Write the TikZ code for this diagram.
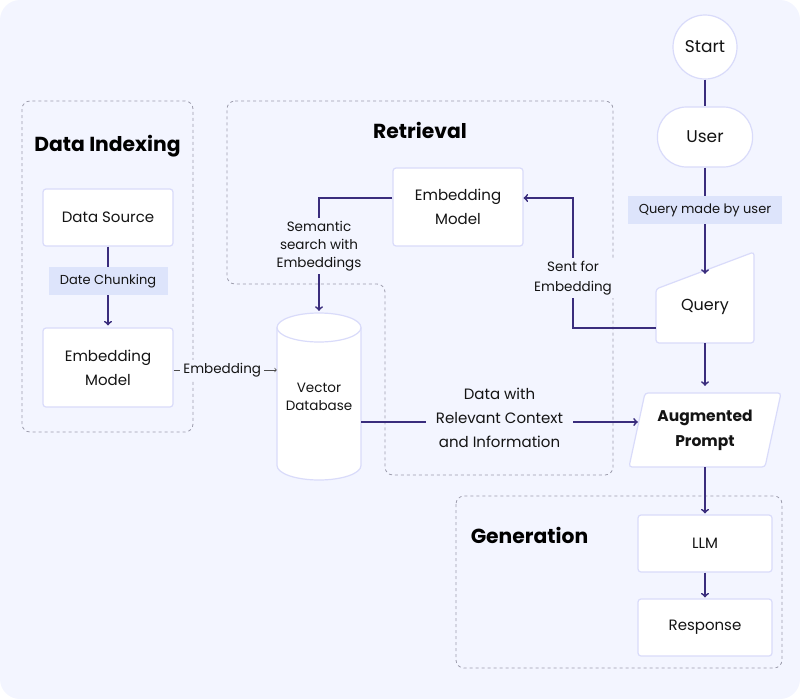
\documentclass[tikz,border=0pt]{standalone}
\usepackage{fontspec}
\setmainfont{Poppins}
\usepackage{tikz}
\usetikzlibrary{arrows,shapes,calc}

\definecolor{bgc}{HTML}{F3F5FF}
\definecolor{boxc}{HTML}{D9DBFA}
\definecolor{linec}{HTML}{3A2D7D}
\definecolor{tagc}{HTML}{DDE4FB}
\definecolor{dashc}{HTML}{9D9DAD}
\definecolor{textc}{HTML}{141414}

\begin{document}
\begin{tikzpicture}[x=1pt,y=1pt]
		\tikzset{block/.style = {shape=rectangle,draw=boxc,fill=white,line width=1.2pt,rounded corners=3pt,minimum width=130pt,minimum height=57pt,align=center,text=textc,font=\fontsize{15}{24}\selectfont}}
		\tikzset{edge/.style = {draw=linec,line width=1.8pt,->,> = to}}
		\tikzset{tag/.style = {fill=tagc,text=textc,inner xsep=8pt,minimum height=28pt,font=\fontsize{13}{16}\selectfont}}
		\tikzset{note/.style = {fill=bgc,text=textc,align=center,inner sep=3pt}}
		\tikzset{group/.style = {draw=dashc,dashed,line width=0.8pt,rounded corners=8pt}}
		\tikzset{title/.style = {anchor=base,text=black,font=\fontsize{20.3}{24}\selectfont\bfseries}}
		
		\fill[bgc,rounded corners=20pt] (0,0) rectangle (800,-699);
		\useasboundingbox (0,0) rectangle (800,-699);
		
		\draw[group] (22,-101) rectangle (193,-432);
		\draw[group] (227,-101) -- (613,-101) -- (613,-475) -- (385,-475) -- (385,-284) -- (227,-284) -- cycle;
		\draw[group] (456,-496) rectangle (782,-668);
		
		\node[title] (tindex) at (107.5,-151) {Data Indexing};
		\node[title] (tretr) at (420,-138) {Retrieval};
		\node[title] (tgen) at (529.5,-543) {Generation};
		
		\node[block] (ds) at (108,-217.5) {Data Source};
		\node[block,minimum height=79pt] (em1) at (108,-367.5) {Embedding\\Model};
		\node[block,minimum height=78pt] (em2) at (458,-207) {Embedding\\Model};
		
		\draw[draw=boxc,line width=1.2pt,fill=white] (277,-327.5) -- (277,-465.5) arc (180:360:42 and 14.5) -- (361,-327.5) arc (0:180:42 and 14.5) -- cycle;
		\draw[draw=boxc,line width=1.2pt] (277,-327.5) arc (180:360:42 and 14.5);
		\node[align=center,text=textc,minimum width=84pt,minimum height=167pt,font=\fontsize{13.5}{18}\selectfont] (vdb) at (319,-396.5) {Vector\\Database};
		
		\node[block,shape=circle,minimum size=64pt,inner sep=0pt,font=\fontsize{17}{20}\selectfont] (start) at (705,-47) {Start};
		\node[block,rounded corners=29pt,minimum width=95pt,minimum height=60pt,font=\fontsize{17}{20}\selectfont] (user) at (705,-137) {User};
		
		\draw[draw=boxc,line width=1.2pt,fill=white,rounded corners=3pt] (656,-343) -- (754,-343) -- (754,-252) -- (656,-289) -- cycle;
		\node[text=textc,minimum width=98pt,minimum height=73pt,font=\fontsize{16}{20}\selectfont] (query) at (705,-306.5) {Query};
		
		\draw[draw=boxc,line width=1.2pt,fill=white,rounded corners=3pt] (645,-393) -- (781,-393) -- (765,-467) -- (629,-467) -- cycle;
		\node[align=center,text=textc,minimum width=152pt,minimum height=74pt,font=\fontsize{15.5}{25}\selectfont\bfseries] (aug) at (705,-430) {Augmented\\Prompt};
		
		\node[block,minimum width=134pt] (llm) at (705,-543.5) {LLM};
		\node[block,minimum width=134pt] (resp) at (705,-627.5) {Response};
		
		\draw[edge,shorten >=2pt] (ds) -- (em1) node[tag,pos=0.43,minimum width=119pt] {Date Chunking};
		\draw[draw=black!70,line width=0.7pt,->] (em1.east |- 0,-370) -- (vdb.west |- 0,-370) node[note,midway,xshift=-3pt,font=\fontsize{13.5}{16}\selectfont] {Embedding};
		\draw[edge,shorten >=2pt] ($(em2.west)+(0,9)$) -| (vdb.north) node[note,pos=0.71,font=\fontsize{13.5}{18}\selectfont] {Semantic\\search with\\Embeddings};
		\coordinate (sentc) at (573,-198);
		\draw[edge] ($(query.south west)+(0,15.5)$) -| (sentc) node[note,pos=0.69,font=\fontsize{13.5}{20}\selectfont] {Sent for\\Embedding} -- ($(em2.east)+(0,9)$);
		\draw[edge] ($(vdb.east)+(0,-25.5)$) -- ($(aug.west)+(9,8)$) node[note,midway,yshift=4pt,inner xsep=10pt,font=\fontsize{15}{24}\selectfont] {Data with\\Relevant Context\\and Information};
		
		\draw[edge,-] (start) -- (user);
		\draw[edge] (user) -- ($(query.north)+(0,-4)$) node[tag,pos=0.40,minimum width=154pt] {Query made by user};
		\draw[edge] (query) -- ($(aug.north)+(0,7)$);
		\draw[edge,shorten >=1pt] (aug) -- (llm);
		\draw[edge,shorten >=1pt] (llm) -- (resp);
		\end{tikzpicture}
\end{document}
